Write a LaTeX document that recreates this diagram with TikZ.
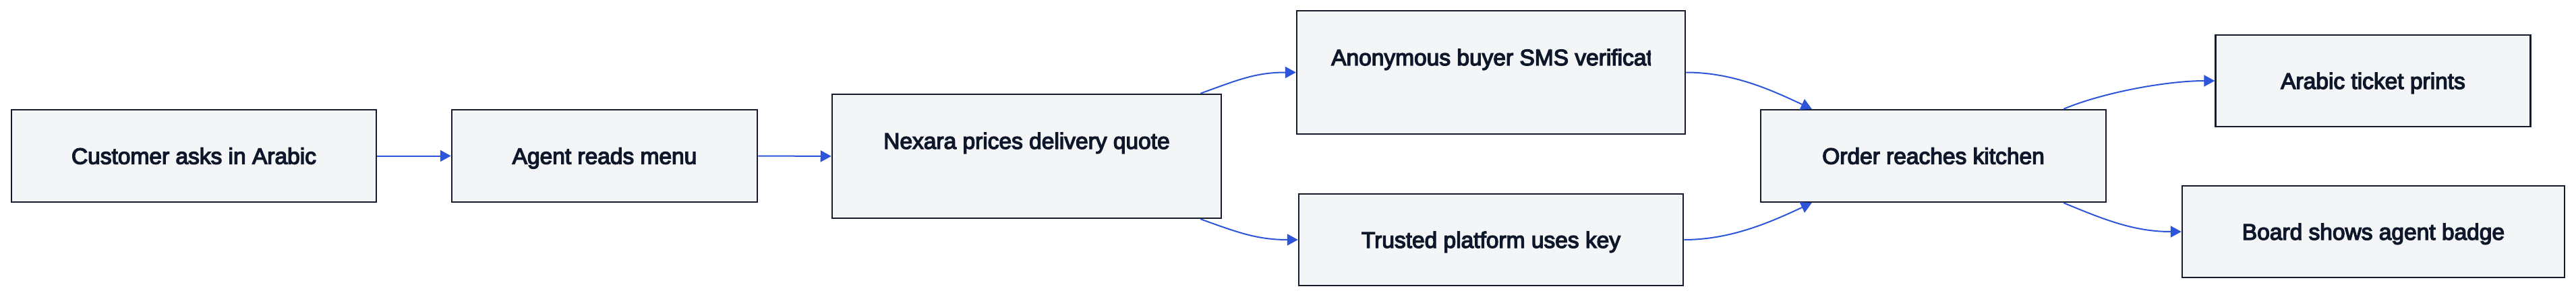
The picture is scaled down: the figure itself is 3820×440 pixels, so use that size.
\documentclass[tikz,border=0pt]{standalone}
\usepackage{fontspec}
\setmainfont{Liberation Sans}
\newfontfamily\medfont{Liberation Sans}[FakeBold=4]
\usetikzlibrary{arrows.meta,calc}
\definecolor{boxfill}{HTML}{F4F5F7}
\definecolor{boxline}{HTML}{161C2C}
\definecolor{edgeblue}{HTML}{2D55D9}
\definecolor{txt}{HTML}{0F172A}
\begin{document}
\begin{tikzpicture}[x=1pt,y=1pt,
  box/.style={draw=boxline,fill=boxfill,line width=2.5pt,inner sep=0pt,text=txt,
    font=\medfont\fontsize{33.5}{40}\selectfont,text height=24pt,text depth=0pt},
  lbl/.style={inner sep=0pt,text=txt,font=\medfont\fontsize{33.5}{40}\selectfont,text height=24pt,text depth=0pt},
  flow/.style={draw=edgeblue,line width=2pt,-{Triangle[length=16pt,width=17pt]}}]
\fill[white] (0,0) rectangle (3820,440);
\useasboundingbox (0,0) rectangle (3820,440);

\node[box,minimum width=541pt,minimum height=137pt] (n1) at (287.5,208.5) {Customer asks in Arabic};
\node[box,minimum width=453pt,minimum height=137pt] (n2) at (896.5,208.5) {Agent reads menu};
\node[box,minimum width=577pt,minimum height=184pt] (n3) at (1522.5,208) {};
\node[lbl] (n3t) at (1522.5,231) {Nexara prices delivery quote};
\node[box,minimum width=576pt,minimum height=183pt] (n4) at (2211,332.5) {};
\begin{scope}
  \clip (1923,0) rectangle (2448,440);
  \node[lbl,anchor=west] (n4t) at (1974,355) {Anonymous buyer SMS verificat};
\end{scope}
\node[box,minimum width=570pt,minimum height=136pt] (n5) at (2211,84) {Trusted platform uses key};
\node[box,minimum width=512pt,minimum height=137pt] (n6) at (2867,208.5) {Order reaches kitchen};
\node[box,minimum width=467pt,minimum height=136pt] (n7) at (3519,320) {Arabic ticket prints};
\node[box,minimum width=567pt,minimum height=136pt] (n8) at (3519.5,96) {Board shows agent badge};

\coordinate (s3a) at ($(n3.north east)+(-32,0)$);
\coordinate (s3b) at ($(n3.south east)+(-32,0)$);
\coordinate (t6a) at ($(n6.north west)+(77,0)$);
\coordinate (t6b) at ($(n6.south west)+(77,0)$);
\coordinate (s6a) at ($(n6.north east)+(-64,0)$);
\coordinate (s6b) at ($(n6.south east)+(-64,0)$);

\draw[flow] (n1.east) -- (n2.west);
\draw[flow] (n2.east) -- (n3.west);
\draw[flow] (s3a) .. controls ($(s3a)+(55,20)$) and ($(n4.west)+(-60,0)$) .. (n4.west);
\draw[flow] (s3b) .. controls ($(s3b)+(55,-20)$) and ($(n5.west)+(-60,0)$) .. (n5.west);
\draw[flow] (n4.east) .. controls ($(n4.east)+(70,0)$) and ($(t6a)+(-60,28)$) .. (t6a);
\draw[flow] (n5.east) .. controls ($(n5.east)+(70,0)$) and ($(t6b)+(-60,-28)$) .. (t6b);
\draw[flow] (s6a) .. controls ($(s6a)+(60,25)$) and ($(n7.west)+(-70,0)$) .. (n7.west);
\draw[flow] (s6b) .. controls ($(s6b)+(60,-25)$) and ($(n8.west)+(-70,0)$) .. (n8.west);
\end{tikzpicture}
\end{document}
